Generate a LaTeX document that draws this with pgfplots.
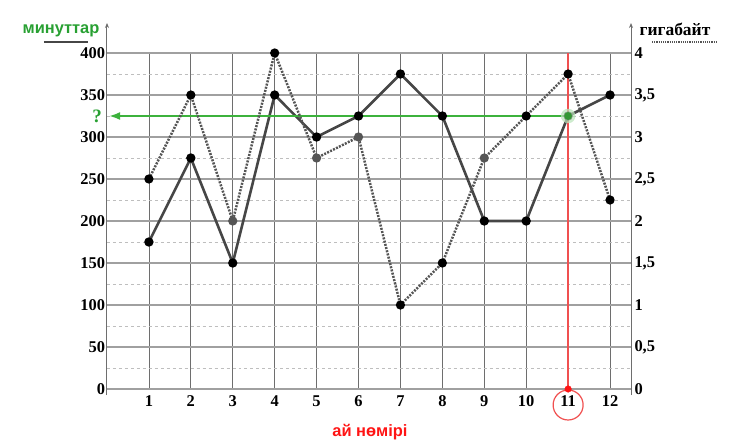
\documentclass[border=0pt]{standalone}
\usepackage{pgfplots}
\usepackage{pgfplotstable}
\pgfplotsset{compat=1.18}
\usepackage{fontspec}
\setmainfont{Liberation Serif}
\newfontfamily\sansb{Liberation Sans}
\usetikzlibrary{arrows.meta}
\definecolor{gline}{RGB}{60,178,60}
\definecolor{gtext}{RGB}{40,160,50}
\definecolor{rline}{RGB}{240,80,80}
\definecolor{rtext}{RGB}{255,20,20}
\definecolor{sline}{RGB}{70,70,70}
\definecolor{dline}{RGB}{85,85,85}
\definecolor{vgrid}{RGB}{110,110,110}
\definecolor{hgrid}{RGB}{160,160,160}
\definecolor{mgrid}{RGB}{190,190,190}

\pgfplotstableread{
m min
1 175
2 275
3 150
4 350
5 300
6 325
7 375
8 325
9 200
10 200
11 325
12 350
}\minutes

\pgfplotstableread{
m gb cls
1 2.5 a
2 3.5 a
3 2 b
4 4 a
5 2.75 b
6 3 b
7 1 a
8 1.5 a
9 2.75 b
10 3.25 a
11 3.75 a
12 2.25 a
}\gigs

\begin{document}
\begin{tikzpicture}
\begin{axis}[
  scale only axis, width=524bp, height=336bp,
  xmin=0, xmax=12.5, ymin=0, ymax=400,
  clip=false,
  axis line style={draw=none},
  xtick={1,...,12}, ytick={0,50,...,400},
  minor ytick={25,75,...,375},
  major tick length=0pt, minor tick length=0pt,
  xmajorgrids, ymajorgrids, yminorgrids,
  major x grid style={vgrid, line width=0.8bp},
  major y grid style={hgrid, line width=1.1bp},
  minor y grid style={mgrid, dashed, line width=0.8bp},
  /pgf/number format/assume math mode=true,
  tick label style={font=\fontsize{16.5}{16.5}\selectfont\bfseries, text=black},
  xticklabel style={yshift=-3bp},
  yticklabel style={xshift=1.5bp},
  ytick pos=left,
]
\coordinate (O) at (rel axis cs:0,0);
\coordinate (T) at (rel axis cs:1,1);
% red vertical guide
\addplot[rline, line width=1.5bp, mark=none] coordinates {(11,0) (11,400)};
% minutes series
\addplot[sline, line width=2.6bp, mark=*, mark size=3.3bp, mark options={fill=black, draw=black}] table[x=m, y=min] {\minutes};
% green guide
\draw[gline, line width=2bp, -{Latex[length=11bp,width=8bp]}] (axis cs:11,325) -- (axis cs:0.05,325);
\addplot[only marks, mark=*, mark size=7bp, color=gline!35, opacity=0.7] coordinates {(11,325)};
\addplot[only marks, mark=*, mark size=3.6bp, color=gline!85!black] coordinates {(11,325)};
\addplot[only marks, mark=*, mark size=3.3bp, color=rtext] coordinates {(11,0)};
% red circle around 11
\draw[rline, line width=1.2bp] ([yshift=-16bp]axis cs:11,0) circle (15bp);
% axis lines
\draw[vgrid, line width=1bp, -{Stealth[length=5bp,width=4bp]}] ([yshift=-6bp]O) -- ([yshift=30bp]O |- T);
\draw[vgrid, line width=1bp, -{Stealth[length=5bp,width=4bp]}] ([yshift=-6bp]T |- O) -- ([yshift=30bp]T);
% question mark
\node[text=gtext, font=\fontsize{19}{19}\selectfont\bfseries] at ([xshift=-10bp]axis cs:0,325) {?};
% titles
\node[text=gtext, font=\sansb\fontsize{16.5}{16.5}\selectfont\bfseries] at ([xshift=-46bp,yshift=358bp]O) {минуттар};
\draw[sline, line width=2.5bp] ([xshift=-63bp,yshift=347bp]O) -- ([xshift=-19bp,yshift=347bp]O);
\node[text=black, font=\fontsize{17.5}{17.5}\selectfont\bfseries] at ([xshift=568bp,yshift=360bp]O) {гигабайт};
\draw[dline, line width=1.5bp, dash pattern=on 1.2bp off 1bp] ([xshift=545bp,yshift=347bp]O) -- ([xshift=609bp,yshift=347bp]O);
\node[text=rtext, font=\sansb\fontsize{16.5}{16.5}\selectfont\bfseries] at ([xshift=263bp,yshift=-43bp]O) {ай нөмірі};
\end{axis}
\begin{axis}[
  scale only axis, width=524bp, height=336bp,
  xmin=0, xmax=12.5, ymin=0, ymax=4,
  clip=false,
  axis line style={draw=none},
  xtick=\empty,
  ytick={0,0.5,...,4},
  yticklabels={0,{0,5},1,{1,5},2,{2,5},3,{3,5},4},
  major tick length=0pt,
  ytick pos=right,
  tick label style={font=\fontsize{16.5}{16.5}\selectfont\bfseries, text=black},
  yticklabel style={xshift=0bp},
]
\addplot[dline, line width=2.5bp, dash pattern=on 2bp off 1.3bp,
  scatter, scatter src=explicit symbolic,
  scatter/classes={a={mark=*, mark size=3.3bp, fill=black, draw=black, solid},
                   b={mark=*, mark size=3.3bp, fill=dline, draw=dline, solid}}]
  table[x=m, y=gb, meta=cls] {\gigs};
\end{axis}
\pgfresetboundingbox
\path[use as bounding box] ([shift={(-107bp,-58bp)}]O) rectangle ([shift={(123bp,53bp)}]T);
\end{tikzpicture}
\end{document}
